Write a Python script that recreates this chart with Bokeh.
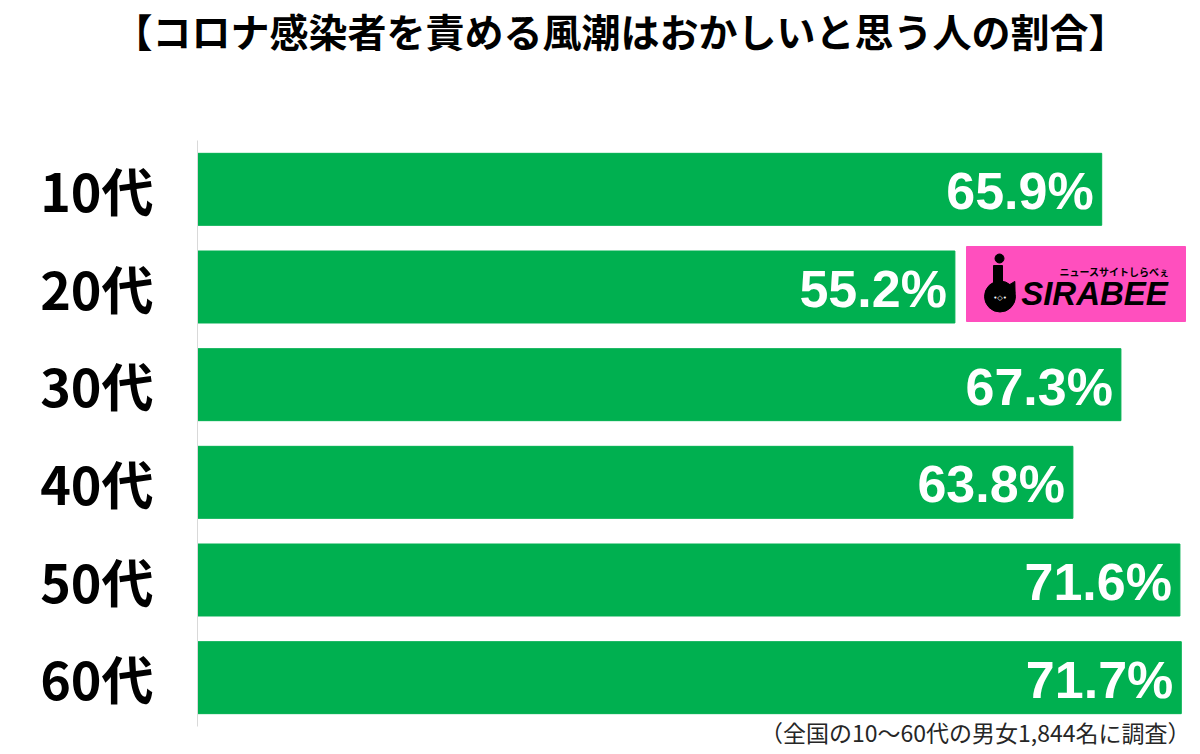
from bokeh.plotting import figure
from bokeh.models import ColumnDataSource, Range1d
from bokeh.core.properties import value
from bokeh.embed import file_html
from bokeh.resources import INLINE

title_text = "【コロナ感染者を責める風潮はおかしいと思う人の割合】"
footnote_text = "（全国の10～60代の男女1,844名に調査）"
categories = ["10代", "20代", "30代", "40代", "50代", "60代"]
percentages = [65.9, 55.2, 67.3, 63.8, 71.6, 71.7]
value_labels = [f"{v:.1f}%" for v in percentages]

W, H = 1200, 754
LEFT, TOP, BOTTOM = 197, 140, 28
X_MAX = 73.1
n = len(categories)
row_px = (H - TOP - BOTTOM) / n
unit_px = (W - LEFT) / X_MAX

def px2x(px):
    return (px - LEFT) / unit_px

def px2y(py):
    return -0.5 + (py - TOP) / row_px

idx = list(range(n))
source = ColumnDataSource(dict(i=idx, cat=categories, val=percentages, lab=value_labels))

p = figure(width=W, height=H, output_backend="svg", toolbar_location=None,
           x_range=Range1d(px2x(0), px2x(W)), y_range=Range1d(px2y(H), px2y(0)),
           min_border=0)
p.outline_line_color = None
p.grid.visible = False
p.axis.visible = False
p.background_fill_color = "white"
p.border_fill_color = "white"

# bars
p.hbar(y="i", left=0, right="val", height=0.737, color="#00B050", source=source)

# axis line
p.segment(x0=[0], y0=[-0.5], x1=[0], y1=[n - 0.5], line_color="#d9d9d9", line_width=1)

# category labels
p.text(x=0, y="i", text="cat", source=source, x_offset=-44,
       text_align="right", text_baseline="middle", text_color="black",
       text_font=value("Noto Sans CJK JP"), text_font_style="bold", text_font_size="52px")

# value labels
p.text(x="val", y="i", text="lab", source=source, x_offset=-8, y_offset=2,
       text_align="right", text_baseline="middle", text_color="white",
       text_font=value("Liberation Sans"), text_font_style="bold", text_font_size="52px")

# Sirabee logo (decorative)
p.rect(x=[px2x(1075.5)], y=[px2y(283.5)], width=219 / unit_px, height=75 / row_px, color="#FF4FBE")
p.scatter(x=[px2x(999)], y=[px2y(258)], size=9, color="black")
p.rect(x=[px2x(997.5)], y=[px2y(276)], width=9 / unit_px, height=22 / row_px, color="black")
p.scatter(x=[px2x(999.5)], y=[px2y(296)], size=31, color="black")
p.scatter(x=[px2x(1011)], y=[px2y(287)], size=12, marker="triangle", angle=-0.5, color="black")
p.text(x=[px2x(999.5)], y=[px2y(297)], text=["•◇•"], text_align="center",
       text_baseline="middle", text_color="white", text_font=value("DejaVu Sans"),
       text_font_size="7px")
p.text(x=[px2x(1094)], y=[px2y(293)], text=["SIRABEE"], text_align="center",
       text_baseline="middle", text_color="black", text_font=value("Liberation Sans"),
       text_font_style="bold italic", text_font_size="33px")
p.text(x=[px2x(1114)], y=[px2y(271)], text=["ニュースサイトしらべぇ"], text_align="center",
       text_baseline="middle", text_color="black", text_font=value("Noto Sans CJK JP"),
       text_font_style="bold", text_font_size="10px")

# title and footnote
p.text(x=[px2x(620)], y=[px2y(29)], text=[title_text], text_align="center",
       text_baseline="middle", text_color="black", text_font=value("Noto Sans CJK JP"),
       text_font_style="bold", text_font_size="39px")
p.text(x=[px2x(1190)], y=[px2y(731)], text=[footnote_text], text_align="right",
       text_baseline="middle", text_color="#262626", text_font=value("Noto Sans CJK JP"),
       text_font_size="23px")

open("out.html", "w").write(file_html(p, INLINE))
